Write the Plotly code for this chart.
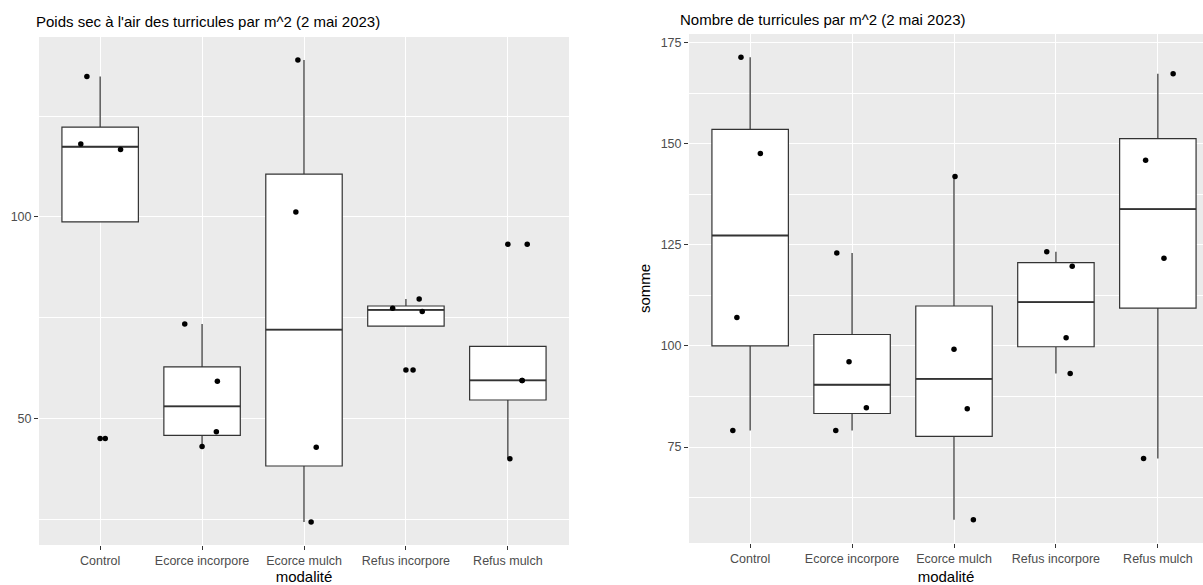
import numpy as np
import plotly.graph_objects as go

W, H = 1203, 585

categories = ["Control", "Ecorce incorpore", "Ecorce mulch", "Refus incorpore", "Refus mulch"]

# Poids sec à l'air des turricules par m^2 (4 répétitions par modalité)
poids_sec = [
    [134.8, 118.1, 116.7, 45.0],
    [73.4, 59.2, 46.7, 43.0],
    [138.9, 101.2, 42.8, 24.3],
    [79.6, 77.3, 76.5, 62.0],
    [93.2, 59.4, 59.4, 40.0],
]
# décalage horizontal des points (geom_jitter)
poids_jitter = [
    [-0.13, -0.19, 0.20, 0.05],
    [-0.17, 0.15, 0.14, 0.00],
    [-0.06, -0.08, 0.12, 0.07],
    [0.13, -0.13, 0.16, 0.07],
    [0.19, 0.14, 0.14, 0.02],
]

# Nombre de turricules par m^2
nombre = [
    [171.4, 147.6, 107.0, 79.1],
    [123.0, 96.1, 84.7, 79.1],
    [141.9, 99.2, 84.5, 57.0],
    [123.3, 119.7, 102.0, 93.2],
    [167.3, 145.9, 121.7, 72.2],
]
nombre_jitter = [
    [-0.09, 0.10, -0.13, -0.17],
    [-0.15, -0.03, 0.14, -0.16],
    [0.01, 0.00, 0.13, 0.19],
    [-0.09, 0.16, 0.10, 0.14],
    [0.15, -0.12, 0.06, -0.14],
]

titles = ["Poids sec à l'air des turricules par m^2 (2 mai 2023)",
          "Nombre de turricules par m^2 (2 mai 2023)"]

LINE = "#333333"
GRID_BG = "#EBEBEB"
TICK_TXT = "#4D4D4D"
FONT = "Liberation Sans, Arial"


def box_stats(vals):
    v = np.asarray(vals, dtype=float)
    q1, med, q3 = np.percentile(v, [25, 50, 75])
    iqr = q3 - q1
    lo, hi = q1 - 1.5 * iqr, q3 + 1.5 * iqr
    inside = v[(v >= lo) & (v <= hi)]
    out = v[(v < lo) | (v > hi)]
    return q1, med, q3, inside.min(), inside.max(), out


fig = go.Figure()

panels = [
    dict(data=poids_sec, jit=poids_jitter, xa="x", ya="y"),
    dict(data=nombre, jit=nombre_jitter, xa="x2", ya="y2"),
]

for p in panels:
    for i, vals in enumerate(p["data"]):
        pos = i + 1
        q1, med, q3, lf, uf, out = box_stats(vals)
        fig.add_trace(go.Box(
            x=[pos], q1=[q1], median=[med], q3=[q3],
            lowerfence=[lf], upperfence=[uf],
            width=0.75, whiskerwidth=0, boxpoints=False,
            fillcolor="white", line=dict(color=LINE, width=1.2),
            xaxis=p["xa"], yaxis=p["ya"], showlegend=False, hoverinfo="skip",
        ))
        # median drawn thicker, as in ggplot
        fig.add_trace(go.Scatter(
            x=[pos - 0.375, pos + 0.375], y=[med, med], mode="lines",
            line=dict(color=LINE, width=1.8),
            xaxis=p["xa"], yaxis=p["ya"], showlegend=False, hoverinfo="skip",
        ))
        if len(out):
            fig.add_trace(go.Scatter(
                x=[pos] * len(out), y=list(out), mode="markers",
                marker=dict(color="black", size=5.5),
                xaxis=p["xa"], yaxis=p["ya"], showlegend=False, hoverinfo="skip",
            ))
        fig.add_trace(go.Scatter(
            x=[pos + d for d in p["jit"][i]], y=vals, mode="markers",
            marker=dict(color="black", size=5.5),
            xaxis=p["xa"], yaxis=p["ya"], showlegend=False, hoverinfo="skip",
        ))


def yrange(data):
    allv = [v for grp in data for v in grp]
    lo, hi = min(allv), max(allv)
    pad = 0.05 * (hi - lo)
    return [lo - pad, hi + pad]


tickfont = dict(family=FONT, size=12.5, color=TICK_TXT)

common_x = dict(
    tickvals=[1, 2, 3, 4, 5], ticktext=categories,
    showgrid=True, gridcolor="white", gridwidth=1.3,
    ticks="outside", ticklen=4, tickwidth=1.1, tickcolor=LINE,
    tickfont=tickfont,
    zeroline=False, showline=False, fixedrange=True,
    title=dict(text="modalité", font=dict(family=FONT, size=15, color="black"),
               standoff=6),
)
common_y = dict(
    showgrid=True, gridcolor="white", gridwidth=1.3,
    ticks="outside", ticklen=4, tickwidth=1.1, tickcolor=LINE,
    tickfont=tickfont,
    zeroline=False, showline=False, fixedrange=True,
)

px_per_cat = (569 - 39) / 5.2
x2_right = 0.4 + (W - 689) / px_per_cat

fig.update_layout(
    width=W, height=H,
    margin=dict(l=0, r=0, t=0, b=0),
    paper_bgcolor="white", plot_bgcolor=GRID_BG,
    boxmode="overlay",
    font=dict(family=FONT, color=TICK_TXT),
    xaxis=dict(common_x, domain=[39 / W, 569 / W], range=[0.4, 5.6], anchor="y"),
    yaxis=dict(common_y, domain=[1 - 545 / H, 1 - 37 / H], range=yrange(poids_sec),
               tickvals=[50, 100],
               minor=dict(tickvals=[25, 75, 125], showgrid=True, gridcolor="white",
                          gridwidth=0.6, ticks=""),
               anchor="x"),
    xaxis2=dict(common_x, domain=[689 / W, 1.0], range=[0.4, x2_right], anchor="y2"),
    yaxis2=dict(common_y, domain=[1 - 543 / H, 1 - 34 / H], range=yrange(nombre),
                tickvals=[75, 100, 125, 150, 175],
                minor=dict(tickvals=[62.5, 87.5, 112.5, 137.5, 162.5], showgrid=True,
                           gridcolor="white", gridwidth=0.6, ticks=""),
                title=dict(text="somme", font=dict(family=FONT, size=15,
                                                   color="black"), standoff=6),
                anchor="x2"),
    annotations=[
        dict(text=titles[0], x=34 / W, y=1 - 22 / H, xref="paper", yref="paper",
             xanchor="left", yanchor="middle", showarrow=False,
             font=dict(family=FONT, size=15, color="black")),
        dict(text=titles[1], x=678 / W, y=1 - 20 / H, xref="paper", yref="paper",
             xanchor="left", yanchor="middle", showarrow=False,
             font=dict(family=FONT, size=15, color="black")),
    ],
)

fig.write_html("out.html")
